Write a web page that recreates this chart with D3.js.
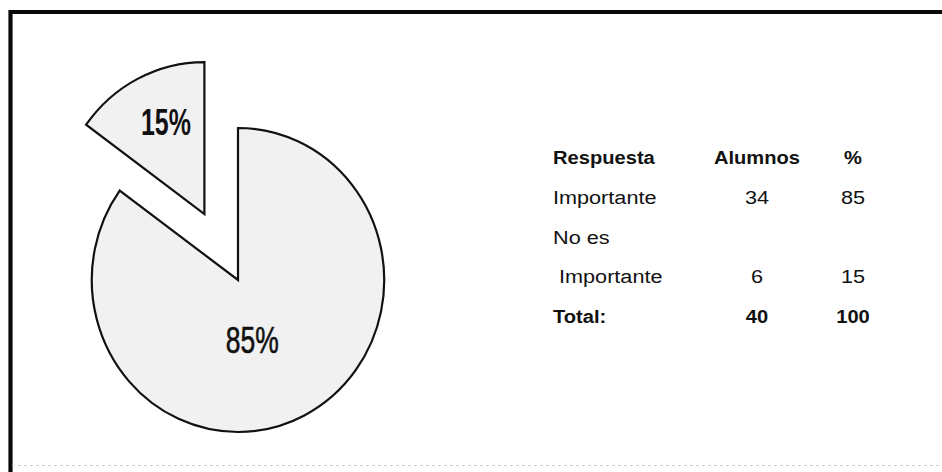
<!DOCTYPE html>
<html>
<head>
<meta charset="utf-8">
<script src="https://cdn.jsdelivr.net/npm/d3@7/dist/d3.min.js"></script>
<style>
  html, body { margin: 0; padding: 0; background: #fff; }
  svg { display: block; }
</style>
</head>
<body>
<svg id="chart" width="942" height="472"></svg>
<script>
// ---- data ----
const categories = ["Importante", "No es Importante"];
const categoryLines = [["Importante"], ["No es", " Importante"]];
const alumnos = [34, 6];
const headers = ["Respuesta", "Alumnos", "%"];
const totalLabel = "Total:";

// ---- derived ----
const total = d3.sum(alumnos);
const percents = alumnos.map(v => Math.round(v / total * 100));
const pieData = categories.map((c, i) => ({ name: c, value: alumnos[i], pct: percents[i] }));

const svg = d3.select("#chart");
const W = 942, H = 472;
svg.append("rect").attr("width", W).attr("height", H).attr("fill", "#fff");

// frame (top + left heavy lines, faint bottom)
svg.append("path")
  .attr("d", `M10.5,${H + 10} V12 H${W + 10}`)
  .attr("fill", "none").attr("stroke", "#0a0a0a").attr("stroke-width", 4.2);
svg.append("line")
  .attr("x1", 12).attr("x2", W).attr("y1", 465.5).attr("y2", 465.5)
  .attr("stroke", "#cfcfcf").attr("stroke-width", 1.2).attr("stroke-dasharray", "3,3");

// ---- pie ----
const cx = 238, cy = 280;
const R = 152, sx = 0.962;      // slightly narrower horizontally
const explode = 74;

const pie = d3.pie().value(d => d.value).sort(null).startAngle(0).endAngle(2 * Math.PI);
const arcs = pie(pieData);
const arc = d3.arc().innerRadius(0).outerRadius(R);

const gPie = svg.append("g").attr("transform", `translate(${cx},${cy})`);

arcs.forEach((a, i) => {
  const mid = (a.startAngle + a.endAngle) / 2;
  const d = i === 1 ? explode : 0;
  const ox = d * Math.sin(mid), oy = -d * Math.cos(mid);
  const g = gPie.append("g").attr("transform", `translate(${ox},${oy})`);
  g.append("path")
    .attr("d", arc(a))
    .attr("transform", `scale(${sx},1)`)
    .attr("fill", "#f1f1f1")
    .attr("stroke", "#111")
    .attr("stroke-width", 2.2)
    .attr("vector-effect", "non-scaling-stroke")
    .attr("stroke-linejoin", "miter");

  // label
  const lr = i === 1 ? 100 : 62;
  const la = i === 1 ? mid + 0.06 : mid + 0.23;
  const lx = lr * Math.sin(la) * sx, ly = -lr * Math.cos(la);
  g.append("text")
    .attr("x", lx).attr("y", ly).attr("dy", "0.36em")
    .attr("text-anchor", "middle")
    .attr("font-family", "'Liberation Sans', Arial, sans-serif")
    .attr("font-size", 36)
    .attr("font-weight", i === 1 ? "bold" : "normal")
    .attr("stroke", i === 1 ? "none" : "#111")
    .attr("stroke-width", 0.6)
    .attr("fill", "#111")
    .attr("textLength", i === 1 ? 50 : 53)
    .attr("lengthAdjust", "spacingAndGlyphs")
    .text(`${a.data.pct}%`);
});

// ---- table ----
const lineY = d3.scaleLinear().domain([0, 4]).range([164, 323]);
const colLeft = 553, colAlumnos = 757, colPct = 853;
const fontFam = "'Liberation Sans', Arial, sans-serif";

function cell(x, y, txt, anchor, bold) {
  const s = bold ? 1.06 : 1.14;
  svg.append("text")
    .attr("transform", `translate(${x},${y}) scale(${s},1)`)
    .attr("text-anchor", anchor)
    .attr("font-family", fontFam)
    .attr("font-size", 19)
    .attr("font-weight", bold ? "bold" : "normal")
    .attr("fill", "#111")
    .attr("xml:space", "preserve")
    .style("white-space", "pre")
    .text(txt);
}

// header
cell(colLeft, lineY(0), headers[0], "start", true);
cell(colAlumnos, lineY(0), headers[1], "middle", true);
cell(colPct, lineY(0), headers[2], "middle", true);

// body rows
let line = 1;
categoryLines.forEach((lines, i) => {
  lines.forEach((t, j) => {
    cell(colLeft, lineY(line + j), t, "start", false);
  });
  const last = line + lines.length - 1;
  cell(colAlumnos, lineY(last), String(alumnos[i]), "middle", false);
  cell(colPct, lineY(last), String(percents[i]), "middle", false);
  line += lines.length;
});

// total
cell(colLeft, lineY(line), totalLabel, "start", true);
cell(colAlumnos, lineY(line), String(total), "middle", true);
cell(colPct, lineY(line), String(d3.sum(percents)), "middle", true);
</script>
</body>
</html>
